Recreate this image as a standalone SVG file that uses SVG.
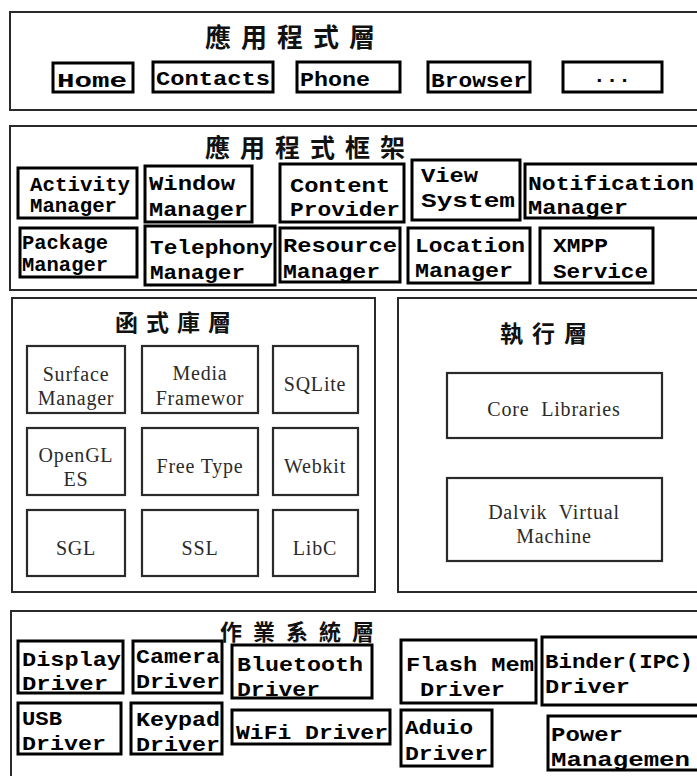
<svg xmlns="http://www.w3.org/2000/svg" width="697" height="776" viewBox="0 0 697 776">
<style>
.bg{fill:#fff}
.layer{fill:none;stroke:#2a2a2a;stroke-width:2}
.box{fill:#fff;stroke:#000;stroke-width:3}
.lbox{fill:#fff;stroke:#2a2a2a;stroke-width:2.2}
.mono{font-family:"Liberation Mono",monospace;font-weight:bold;fill:#000;font-size:21px}
.serif{font-family:"Liberation Serif",serif;fill:#2a2a2a;font-size:20px;text-anchor:middle;letter-spacing:0.8px}
.cjk{font-family:"Noto Sans CJK TC","Noto Sans CJK SC",sans-serif;font-weight:bold;fill:#111}
</style>
<rect class="bg" x="0" y="0" width="697" height="776"/>

<g id="layer-app">
<rect class="layer" x="10" y="12" width="700" height="98"/>
<text class="cjk" x="205" y="47" font-size="26" letter-spacing="10">應用程式層</text>
</g>
<g id="n-home"><rect class="box" x="53" y="63" width="80" height="29"/><text class="mono" x="57" y="87" font-size="26" textLength="70" lengthAdjust="spacingAndGlyphs">Home</text></g>
<g id="n-contacts"><rect class="box" x="153" y="62" width="120" height="30"/><text class="mono" x="156" y="85" font-size="25" textLength="114" lengthAdjust="spacingAndGlyphs">Contacts</text></g>
<g id="n-phone"><rect class="box" x="297" y="62" width="103" height="30" stroke-width="2"/><text class="mono" x="300" y="86" font-size="23" textLength="70" lengthAdjust="spacingAndGlyphs">Phone</text></g>
<g id="n-browser"><rect class="box" x="428" y="62" width="102" height="30"/><text class="mono" x="431" y="87" font-size="25" textLength="96" lengthAdjust="spacingAndGlyphs">Browser</text></g>
<g id="n-more"><rect class="box" x="563" y="62" width="99" height="30" stroke-width="2"/><text class="mono" x="612" y="82" font-size="14" text-anchor="middle">...</text></g>

<g id="layer-framework">
<rect class="layer" x="10" y="126" width="700" height="164"/>
<text class="cjk" x="205" y="157" font-size="25" letter-spacing="10">應用程式框架</text>
</g>
<g id="n-activity"><rect class="box" x="18" y="168" width="119" height="50"/><text class="mono" x="30" y="191" font-size="19" textLength="100" lengthAdjust="spacingAndGlyphs">Activity</text><text class="mono" x="30" y="212" font-size="19" textLength="87" lengthAdjust="spacingAndGlyphs">Manager</text></g>
<g id="n-window"><rect class="box" x="145" y="166" width="107" height="56"/><text class="mono" x="149" y="190" textLength="86" lengthAdjust="spacingAndGlyphs">Window</text><text class="mono" x="149" y="216" textLength="99" lengthAdjust="spacingAndGlyphs">Manager</text></g>
<g id="n-content"><rect class="box" x="280" y="164" width="124" height="58"/><text class="mono" x="290" y="192" textLength="100" lengthAdjust="spacingAndGlyphs">Content</text><text class="mono" x="290" y="216" textLength="110" lengthAdjust="spacingAndGlyphs">Provider</text></g>
<g id="n-view"><rect class="box" x="412" y="160" width="108" height="60"/><text class="mono" x="421" y="182" textLength="57" lengthAdjust="spacingAndGlyphs">View</text><text class="mono" x="421" y="207" textLength="94" lengthAdjust="spacingAndGlyphs">System</text></g>
<g id="n-notification"><rect class="box" x="525" y="164" width="185" height="54"/><text class="mono" x="528" y="190" textLength="166" lengthAdjust="spacingAndGlyphs">Notification</text><text class="mono" x="528" y="214" textLength="100" lengthAdjust="spacingAndGlyphs">Manager</text></g>
<g id="n-package"><rect class="box" x="20" y="228" width="117" height="49"/><text class="mono" x="22" y="249" font-size="19" textLength="86" lengthAdjust="spacingAndGlyphs">Package</text><text class="mono" x="22" y="271" font-size="19" textLength="86" lengthAdjust="spacingAndGlyphs">Manager</text></g>
<g id="n-telephony"><rect class="box" x="145" y="226" width="130" height="59"/><text class="mono" x="150" y="254" textLength="123" lengthAdjust="spacingAndGlyphs">Telephony</text><text class="mono" x="150" y="279" textLength="95" lengthAdjust="spacingAndGlyphs">Manager</text></g>
<g id="n-resource"><rect class="box" x="280" y="228" width="120" height="54"/><text class="mono" x="283" y="252" textLength="114" lengthAdjust="spacingAndGlyphs">Resource</text><text class="mono" x="283" y="278" textLength="97" lengthAdjust="spacingAndGlyphs">Manager</text></g>
<g id="n-location"><rect class="box" x="408" y="228" width="122" height="55"/><text class="mono" x="415" y="252" textLength="110" lengthAdjust="spacingAndGlyphs">Location</text><text class="mono" x="415" y="277" textLength="98" lengthAdjust="spacingAndGlyphs">Manager</text></g>
<g id="n-xmpp"><rect class="box" x="540" y="228" width="113" height="55"/><text class="mono" x="553" y="252" textLength="55" lengthAdjust="spacingAndGlyphs">XMPP</text><text class="mono" x="553" y="278" textLength="95" lengthAdjust="spacingAndGlyphs">Service</text></g>

<g id="layer-libraries">
<rect class="layer" x="12" y="298" width="363" height="294"/>
<text class="cjk" x="115" y="331" font-size="23" letter-spacing="8">函式庫層</text>
</g>
<g id="n-surface"><rect class="lbox" x="27" y="346" width="98" height="67"/><text class="serif" x="76" y="381">Surface</text><text class="serif" x="76" y="405">Manager</text></g>
<g id="n-media"><rect class="lbox" x="142" y="346" width="116" height="67"/><text class="serif" x="200" y="380">Media</text><text class="serif" x="200" y="405">Framewor</text></g>
<g id="n-sqlite"><rect class="lbox" x="273" y="346" width="85" height="67"/><text class="serif" x="315" y="391">SQLite</text></g>
<g id="n-opengl"><rect class="lbox" x="27" y="428" width="98" height="67"/><text class="serif" x="76" y="462">OpenGL</text><text class="serif" x="76" y="486">ES</text></g>
<g id="n-freetype"><rect class="lbox" x="142" y="428" width="116" height="67"/><text class="serif" x="200" y="473">Free Type</text></g>
<g id="n-webkit"><rect class="lbox" x="273" y="428" width="85" height="67"/><text class="serif" x="315" y="473">Webkit</text></g>
<g id="n-sgl"><rect class="lbox" x="27" y="510" width="98" height="66"/><text class="serif" x="76" y="555">SGL</text></g>
<g id="n-ssl"><rect class="lbox" x="142" y="510" width="116" height="66"/><text class="serif" x="200" y="555">SSL</text></g>
<g id="n-libc"><rect class="lbox" x="273" y="510" width="85" height="66"/><text class="serif" x="315" y="555">LibC</text></g>

<g id="layer-runtime">
<rect class="layer" x="398" y="298" width="310" height="294"/>
<text class="cjk" x="500" y="342" font-size="23" letter-spacing="9">執行層</text>
</g>
<g id="n-core"><rect class="lbox" x="447" y="373" width="215" height="65"/><text class="serif" x="554" y="416" word-spacing="6">Core Libraries</text></g>
<g id="n-dalvik"><rect class="lbox" x="447" y="478" width="215" height="83"/><text class="serif" x="554" y="519" word-spacing="6">Dalvik Virtual</text><text class="serif" x="554" y="543">Machine</text></g>

<g id="layer-os">
<rect class="layer" x="11" y="611" width="700" height="170"/>
<text class="cjk" x="220" y="640" font-size="22" letter-spacing="11">作業系統層</text>
</g>
<g id="n-display"><rect class="box" x="18" y="641" width="105" height="52"/><text class="mono" x="22" y="666" textLength="99" lengthAdjust="spacingAndGlyphs">Display</text><text class="mono" x="22" y="690" textLength="86" lengthAdjust="spacingAndGlyphs">Driver</text></g>
<g id="n-camera"><rect class="box" x="133" y="641" width="89" height="52"/><text class="mono" x="136" y="663" textLength="84" lengthAdjust="spacingAndGlyphs">Camera</text><text class="mono" x="136" y="688" textLength="84" lengthAdjust="spacingAndGlyphs">Driver</text></g>
<g id="n-bluetooth"><rect class="box" x="232" y="645" width="140" height="53"/><text class="mono" x="237" y="671" textLength="126" lengthAdjust="spacingAndGlyphs">Bluetooth</text><text class="mono" x="237" y="696" textLength="83" lengthAdjust="spacingAndGlyphs">Driver</text></g>
<g id="n-usb"><rect class="box" x="18" y="703" width="103" height="51"/><text class="mono" x="22" y="725" textLength="40" lengthAdjust="spacingAndGlyphs">USB</text><text class="mono" x="22" y="750" textLength="84" lengthAdjust="spacingAndGlyphs">Driver</text></g>
<g id="n-keypad"><rect class="box" x="131" y="703" width="91" height="51"/><text class="mono" x="136" y="726" textLength="84" lengthAdjust="spacingAndGlyphs">Keypad</text><text class="mono" x="136" y="751" textLength="84" lengthAdjust="spacingAndGlyphs">Driver</text></g>
<g id="n-wifi"><rect class="box" x="232" y="710" width="158" height="34"/><text class="mono" x="236" y="739" font-size="24" textLength="152" lengthAdjust="spacingAndGlyphs">WiFi Driver</text></g>
<g id="n-flash"><rect class="box" x="401" y="640" width="135" height="63"/><text class="mono" x="406" y="671" textLength="128" lengthAdjust="spacingAndGlyphs">Flash Mem</text><text class="mono" x="420" y="696" textLength="85" lengthAdjust="spacingAndGlyphs">Driver</text></g>
<g id="n-binder"><rect class="box" x="542" y="637" width="170" height="68"/><text class="mono" x="545" y="668" textLength="148" lengthAdjust="spacingAndGlyphs">Binder(IPC)</text><text class="mono" x="545" y="693" textLength="85" lengthAdjust="spacingAndGlyphs">Driver</text></g>
<g id="n-audio"><rect class="box" x="401" y="710" width="91" height="56"/><text class="mono" x="405" y="734" textLength="68" lengthAdjust="spacingAndGlyphs">Aduio</text><text class="mono" x="405" y="760" textLength="83" lengthAdjust="spacingAndGlyphs">Driver</text></g>
<g id="n-power"><rect class="box" x="548" y="716" width="162" height="54"/><text class="mono" x="551" y="741" textLength="72" lengthAdjust="spacingAndGlyphs">Power</text><text class="mono" x="551" y="766" textLength="139" lengthAdjust="spacingAndGlyphs">Managemen</text></g>

<g id="connectors"></g>
</svg>
